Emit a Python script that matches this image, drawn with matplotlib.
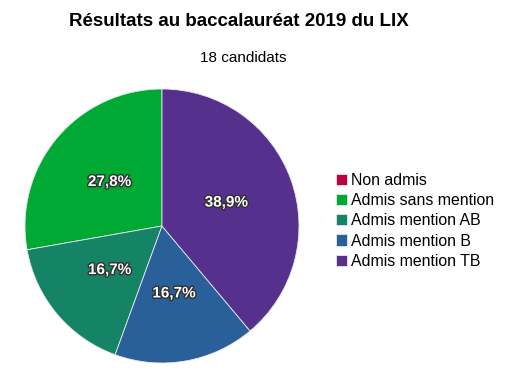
import matplotlib.pyplot as plt
import matplotlib.patheffects as pe

# --- Data ---
categories = ['Non admis', 'Admis sans mention', 'Admis mention AB',
              'Admis mention B', 'Admis mention TB']
counts = [0, 5, 3, 3, 7]
colors = ['#bf0041', '#00a933', '#158466', '#2a6099', '#55308d']

title = 'Résultats au baccalauréat 2019 du LIX'
subtitle = '18 candidats'

plt.rcParams['font.family'] = ['Liberation Sans', 'DejaVu Sans']

W, H = 507, 371
fig = plt.figure(figsize=(W / 100, H / 100), dpi=100)

# pie centred at (162, 226) px, radius 137 px
cx, cy, r = 162, 226, 137
ax = fig.add_axes([(cx - r) / W, (H - cy - r) / H, 2 * r / W, 2 * r / H])


def fmt(p):
    return '' if p < 0.05 else f'{p:.1f}%'.replace('.', ',')


wedges, texts, autotexts = ax.pie(
    counts, colors=colors, startangle=90, counterclock=True,
    autopct=fmt, pctdistance=0.5, radius=1,
    wedgeprops=dict(edgecolor='#e8e8e8', linewidth=0.6),
    textprops=dict(color='white', fontsize=11, fontweight='bold'))
for t in autotexts:
    t.set_path_effects([pe.withStroke(linewidth=2, foreground='#303030')])
ax.set_xlim(-1, 1)
ax.set_ylim(-1, 1)

fig.text(239 / W, 1 - 22 / H, title, ha='center', va='center',
         fontsize=13.5, fontweight='bold')
fig.text(243 / W, 1 - 58 / H, subtitle, ha='center', va='center',
         fontsize=11)

fig.legend(wedges, categories, loc='center left',
           bbox_to_anchor=(328 / W, 1 - 221 / H), frameon=False,
           fontsize=11.4, handlelength=0.7, handleheight=0.7,
           handletextpad=0.25, labelspacing=0.32, borderpad=0)

fig.savefig('out.png', dpi=100)
